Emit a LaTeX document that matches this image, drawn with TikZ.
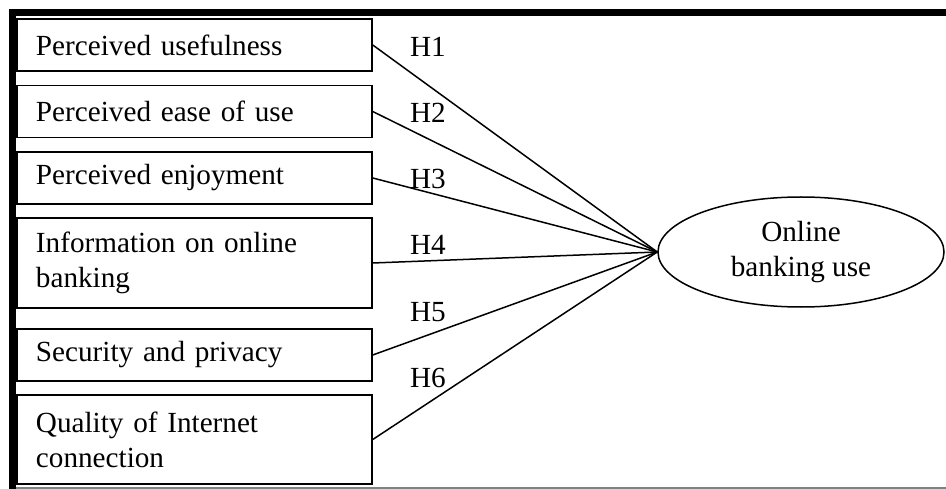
\documentclass[tikz,border=0pt]{standalone}
\usepackage{fontspec}
\setmainfont{Liberation Serif}
\usetikzlibrary{shapes.geometric}
\begin{document}
\begin{tikzpicture}[x=1bp,y=-1bp,
        every node/.style={font=\fontsize{29.3}{35}\selectfont},
        factor/.style={draw,line width=1.5bp,minimum width=355bp,text width=317bp,inner xsep=19bp,align=left},
        link/.style={line width=1.5bp}]
        \useasboundingbox (0,0) rectangle (946,489);
        % frame
        \fill (9,9) rectangle (946,16);
        \fill (9,9) rectangle (16,489);
        \fill[gray] (16,487) rectangle (946,489);
        % factors
        \node[factor,minimum height=52bp] (pu) at (194.5,45){Perceived usefulness};
        \node[factor,minimum height=52bp] (peou) at (194.5,111.5){Perceived ease of use};
        \node[factor,minimum height=52bp] (pe) at (194.5,178){Perceived enjoyment};
        \node[factor,minimum height=90bp] (info) at (194.5,263){Information on online\\banking};
        \node[factor,minimum height=52bp] (sec) at (194.5,355){Security and privacy};
        \node[factor,minimum height=89bp] (qual) at (194.5,439.5){Quality of Internet\\connection};
        \node[draw,ellipse,line width=1.5bp,minimum width=286bp,minimum height=110bp,align=center] (use) at (801,252){Online\\banking use};
        \draw[link] (pu.east) -- (use.west);
        \draw[link] (peou.east) -- (use.west);
        \draw[link] (pe.east) -- (use.west);
        \draw[link] (info.east) -- (use.west);
        \draw[link] (sec.east) -- (use.west);
        \draw[link] (qual.east) -- (use.west);
        \node (h1) at (428,47){H1};
        \node (h2) at (428,113){H2};
        \node (h3) at (428,179){H3};
        \node (h4) at (428,245){H4};
        \node (h5) at (428,312){H5};
        \node (h6) at (428,378){H6};
    \end{tikzpicture}
\end{document}
